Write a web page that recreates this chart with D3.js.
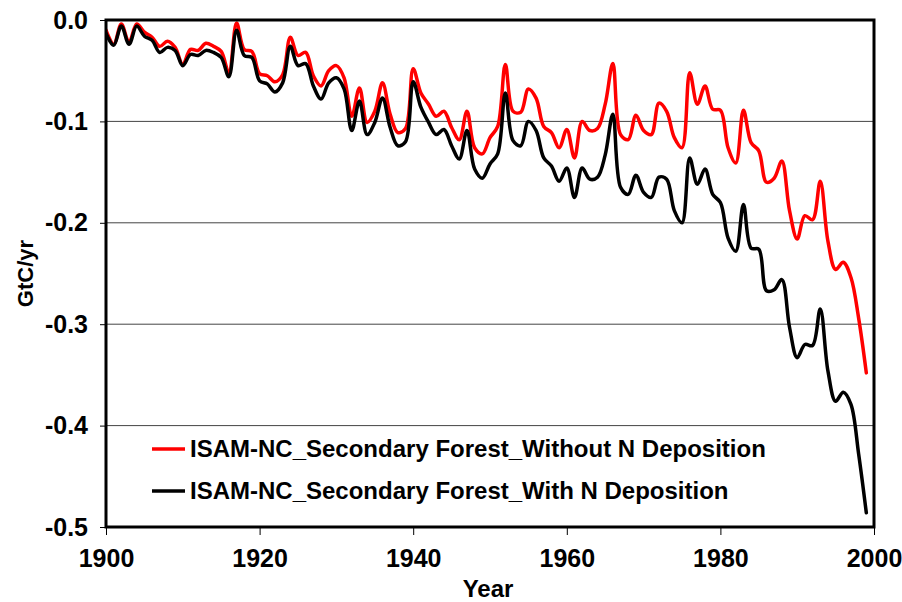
<!DOCTYPE html>
<html>
<head>
<meta charset="utf-8">
<script src="https://cdn.jsdelivr.net/npm/d3@7"></script>
<style>
  html, body { margin: 0; padding: 0; background: #fff; }
  svg { display: block; }
  text { font-family: Arial, "Liberation Sans", sans-serif; font-weight: bold; fill: #000; }
</style>
</head>
<body>
<svg id="chart" width="902" height="602"></svg>
<script>
const years = d3.range(1900, 2000);

const withoutN = [
  -0.010, -0.024, -0.004, -0.022, -0.004, -0.012, -0.017, -0.026, -0.021, -0.027,
  -0.044, -0.029, -0.030, -0.023, -0.026, -0.031, -0.052, -0.003, -0.029, -0.031,
  -0.053, -0.055, -0.061, -0.054, -0.017, -0.035, -0.032, -0.055, -0.065, -0.050,
  -0.045, -0.057, -0.095, -0.067, -0.101, -0.090, -0.062, -0.093, -0.111, -0.107,
  -0.048, -0.072, -0.083, -0.095, -0.090, -0.106, -0.118, -0.090, -0.126, -0.132,
  -0.116, -0.105, -0.044, -0.090, -0.091, -0.068, -0.077, -0.105, -0.111, -0.126,
  -0.108, -0.136, -0.100, -0.109, -0.107, -0.083, -0.043, -0.113, -0.118, -0.094,
  -0.109, -0.113, -0.082, -0.090, -0.116, -0.126, -0.052, -0.083, -0.065, -0.088,
  -0.089, -0.126, -0.141, -0.089, -0.121, -0.129, -0.160, -0.156, -0.139, -0.188,
  -0.216, -0.193, -0.197, -0.159, -0.218, -0.246, -0.239, -0.254, -0.294, -0.348
];

const withN = [
  -0.013, -0.025, -0.006, -0.024, -0.006, -0.016, -0.020, -0.032, -0.027, -0.030,
  -0.045, -0.034, -0.035, -0.030, -0.032, -0.037, -0.056, -0.010, -0.035, -0.037,
  -0.060, -0.063, -0.071, -0.062, -0.026, -0.045, -0.043, -0.065, -0.078, -0.062,
  -0.057, -0.068, -0.109, -0.080, -0.113, -0.101, -0.077, -0.106, -0.124, -0.120,
  -0.061, -0.086, -0.101, -0.113, -0.108, -0.124, -0.137, -0.109, -0.147, -0.156,
  -0.142, -0.132, -0.072, -0.119, -0.124, -0.100, -0.109, -0.136, -0.144, -0.159,
  -0.146, -0.175, -0.146, -0.157, -0.155, -0.133, -0.093, -0.165, -0.172, -0.153,
  -0.170, -0.175, -0.155, -0.157, -0.188, -0.200, -0.136, -0.162, -0.147, -0.172,
  -0.180, -0.215, -0.228, -0.182, -0.225, -0.226, -0.267, -0.266, -0.256, -0.303,
  -0.333, -0.320, -0.321, -0.285, -0.346, -0.376, -0.367, -0.379, -0.428, -0.486
];

const seriesNames = [
  "ISAM-NC_Secondary Forest_Without N Deposition",
  "ISAM-NC_Secondary Forest_With N Deposition"
];
const seriesColors = ["#ff0000", "#000000"];

const yTickValues = [0, -0.1, -0.2, -0.3, -0.4, -0.5];
const yTickLabels = ["0.0", "-0.1", "-0.2", "-0.3", "-0.4", "-0.5"];
const xTickValues = [1900, 1920, 1940, 1960, 1980, 2000];
const xTickLabels = ["1900", "1920", "1940", "1960", "1980", "2000"];

const W = 902, H = 602;
const margin = { left: 106, right: 28, top: 20, bottom: 75 };
const pw = W - margin.left - margin.right;
const ph = H - margin.top - margin.bottom;

const svg = d3.select("#chart");
const g = svg.append("g").attr("transform", `translate(${margin.left},${margin.top})`);

const x = d3.scaleLinear().domain([1900, 2000]).range([0, pw]);
const y = d3.scaleLinear().domain([-0.5, 0]).range([ph, 0]);

// gridlines
g.append("g").selectAll("line")
  .data([-0.1, -0.2, -0.3, -0.4])
  .join("line")
  .attr("x1", 0).attr("x2", pw)
  .attr("y1", d => y(d)).attr("y2", d => y(d))
  .attr("stroke", "#444").attr("stroke-width", 1);

// y axis
const yAxis = d3.axisLeft(y)
  .tickValues(yTickValues)
  .tickFormat((d, i) => yTickLabels[i])
  .tickSize(6).tickPadding(12);
const ya = g.append("g").call(yAxis);
ya.select(".domain").remove();
ya.selectAll(".tick line").attr("stroke", "#000").attr("stroke-width", 1);
ya.selectAll(".tick text").style("font-size", "25px").attr("fill", "#000");

// x axis
const xAxis = d3.axisBottom(x)
  .tickValues(xTickValues)
  .tickFormat((d, i) => xTickLabels[i])
  .tickSize(8).tickPadding(14);
const xa = g.append("g").attr("transform", `translate(0,${ph})`).call(xAxis);
xa.select(".domain").remove();
xa.selectAll(".tick line").attr("stroke", "#000").attr("stroke-width", 1);
xa.selectAll(".tick text").style("font-size", "25px").attr("fill", "#000");

// lines
const line = d3.line()
  .x((d, i) => x(years[i]))
  .y(d => y(d))
  .curve(d3.curveCatmullRom.alpha(0.5));

const clip = svg.append("defs").append("clipPath").attr("id", "clip");
clip.append("rect").attr("x", 0).attr("y", -4).attr("width", pw).attr("height", ph + 4);

const lines = g.append("g").attr("clip-path", "url(#clip)");
[withoutN, withN].forEach((vals, k) => {
  lines.append("path")
    .datum(vals)
    .attr("d", line)
    .attr("fill", "none")
    .attr("stroke", seriesColors[k])
    .attr("stroke-width", 3.5)
    .attr("stroke-linejoin", "round")
    .attr("stroke-linecap", "round");
});

// frame
g.append("rect")
  .attr("x", 0).attr("y", 0).attr("width", pw).attr("height", ph)
  .attr("fill", "none").attr("stroke", "#000").attr("stroke-width", 3);

// axis titles
svg.append("text")
  .attr("x", 488).attr("y", 597)
  .attr("text-anchor", "middle")
  .style("font-size", "24px")
  .text("Year");

svg.append("text")
  .attr("transform", `translate(33,${margin.top + ph / 2}) rotate(-90)`)
  .attr("text-anchor", "middle")
  .style("font-size", "22px")
  .text("GtC/yr");

// legend
const legend = g.append("g");
const legendY = [449, 491];
seriesNames.forEach((name, k) => {
  const ly = legendY[k] - margin.top;
  legend.append("line")
    .attr("x1", 152 - margin.left).attr("x2", 185 - margin.left)
    .attr("y1", ly).attr("y2", ly)
    .attr("stroke", seriesColors[k]).attr("stroke-width", 3.5);
  legend.append("text")
    .attr("x", 190 - margin.left).attr("y", ly)
    .attr("dy", "0.35em")
    .style("font-size", "24px")
    .text(name);
});
</script>
</body>
</html>
